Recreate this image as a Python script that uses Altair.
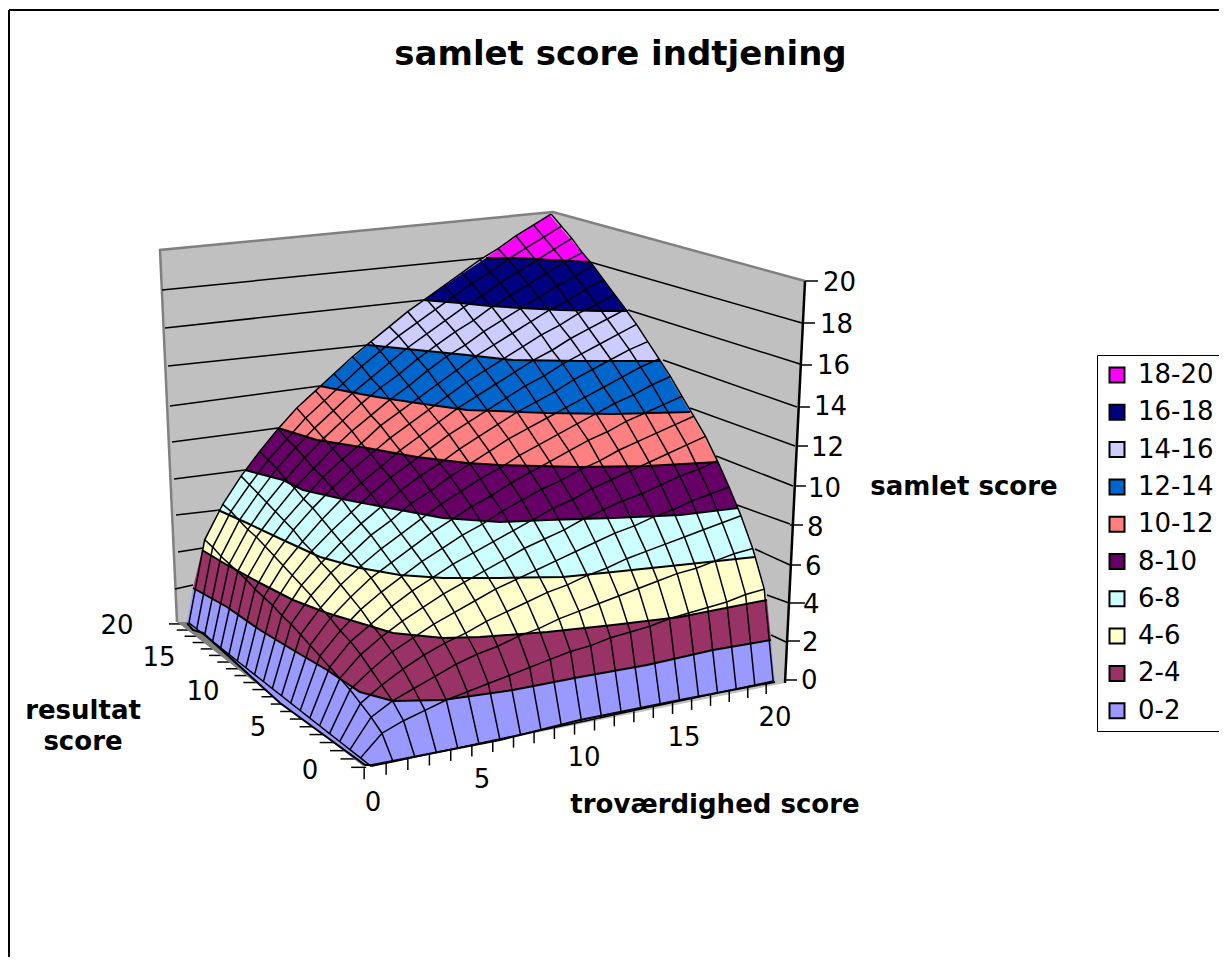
import altair as alt
import numpy as np
import pandas as pd

# ---- data -----------------------------------------------------------------
title_text = "samlet score indtjening"
legend_labels = ["18-20", "16-18", "14-16", "12-14", "10-12", "8-10", "6-8", "4-6", "2-4", "0-2"]
legend_colors = ["#FF00FF", "#000080", "#CCCCFF", "#0066CC", "#FF8080", "#660066", "#CCFFFF", "#FFFFCC", "#993366", "#9999FF"]

# samlet score per grid node: one row per resultat score 0..20, one column per trovaerdighed score 0..20
surface_rows = [
    [0.0] * 21,
    [0, 1.0, 1.4, 1.7, 2.0, 2.2, 2.4, 2.6, 2.8, 3.0, 3.2, 3.3, 3.5, 3.6, 3.7, 3.9, 4.0, 4.1, 4.2, 4.4, 4.5],
    [0, 1.4, 2.0, 2.4, 2.8, 3.2, 3.5, 3.7, 4.0, 4.2, 4.5, 4.7, 4.9, 5.1, 5.3, 5.5, 5.7, 5.8, 6.0, 6.2, 6.3],
    [0, 1.7, 2.4, 3.0, 3.5, 3.9, 4.2, 4.6, 4.9, 5.2, 5.5, 5.7, 6.0, 6.2, 6.5, 6.7, 6.9, 7.1, 7.3, 7.5, 7.7],
    [0, 2.0, 2.8, 3.5, 4.0, 4.5, 4.9, 5.3, 5.7, 6.0, 6.3, 6.6, 6.9, 7.2, 7.5, 7.7, 8.0, 8.2, 8.5, 8.7, 8.9],
    [0, 2.2, 3.2, 3.9, 4.5, 5.0, 5.5, 5.9, 6.3, 6.7, 7.1, 7.4, 7.7, 8.1, 8.4, 8.7, 8.9, 9.2, 9.5, 9.7, 10.0],
    [0, 2.4, 3.5, 4.2, 4.9, 5.5, 6.0, 6.5, 6.9, 7.3, 7.7, 8.1, 8.5, 8.8, 9.2, 9.5, 9.8, 10.1, 10.4, 10.7, 11.0],
    [0, 2.6, 3.7, 4.6, 5.3, 5.9, 6.5, 7.0, 7.5, 7.9, 8.4, 8.8, 9.2, 9.5, 9.9, 10.2, 10.6, 10.9, 11.2, 11.5, 11.8],
    [0, 2.8, 4.0, 4.9, 5.7, 6.3, 6.9, 7.5, 8.0, 8.5, 8.9, 9.4, 9.8, 10.2, 10.6, 11.0, 11.3, 11.7, 12.0, 12.3, 12.6],
    [0, 3.0, 4.2, 5.2, 6.0, 6.7, 7.3, 7.9, 8.5, 9.0, 9.5, 9.9, 10.4, 10.8, 11.2, 11.6, 12.0, 12.4, 12.7, 13.1, 13.4],
    [0, 3.2, 4.5, 5.5, 6.3, 7.1, 7.7, 8.4, 8.9, 9.5, 10.0, 10.5, 11.0, 11.4, 11.8, 12.2, 12.6, 13.0, 13.4, 13.8, 14.1],
    [0, 3.3, 4.7, 5.7, 6.6, 7.4, 8.1, 8.8, 9.4, 9.9, 10.5, 11.0, 11.5, 12.0, 12.4, 12.8, 13.3, 13.7, 14.1, 14.5, 14.8],
    [0, 3.5, 4.9, 6.0, 6.9, 7.7, 8.5, 9.2, 9.8, 10.4, 11.0, 11.5, 12.0, 12.5, 13.0, 13.4, 13.9, 14.3, 14.7, 15.1, 15.5],
    [0, 3.6, 5.1, 6.2, 7.2, 8.1, 8.8, 9.5, 10.2, 10.8, 11.4, 12.0, 12.5, 13.0, 13.5, 14.0, 14.4, 14.9, 15.3, 15.7, 16.1],
    [0, 3.7, 5.3, 6.5, 7.5, 8.4, 9.2, 9.9, 10.6, 11.2, 11.8, 12.4, 13.0, 13.5, 14.0, 14.5, 15.0, 15.4, 15.9, 16.3, 16.7],
    [0, 3.9, 5.5, 6.7, 7.7, 8.7, 9.5, 10.2, 11.0, 11.6, 12.2, 12.8, 13.4, 14.0, 14.5, 15.0, 15.5, 16.0, 16.4, 16.9, 17.3],
    [0, 4.0, 5.7, 6.9, 8.0, 8.9, 9.8, 10.6, 11.3, 12.0, 12.6, 13.3, 13.9, 14.4, 15.0, 15.5, 16.0, 16.5, 17.0, 17.4, 17.9],
    [0, 4.1, 5.8, 7.1, 8.2, 9.2, 10.1, 10.9, 11.7, 12.4, 13.0, 13.7, 14.3, 14.9, 15.4, 16.0, 16.5, 17.0, 17.5, 18.0, 18.4],
    [0, 4.2, 6.0, 7.3, 8.5, 9.5, 10.4, 11.2, 12.0, 12.7, 13.4, 14.1, 14.7, 15.3, 15.9, 16.4, 17.0, 17.5, 18.0, 18.5, 19.0],
    [0, 4.4, 6.2, 7.5, 8.7, 9.7, 10.7, 11.5, 12.3, 13.1, 13.8, 14.5, 15.1, 15.7, 16.3, 16.9, 17.4, 18.0, 18.5, 19.0, 19.5],
    [0, 4.5, 6.3, 7.7, 8.9, 10.0, 11.0, 11.8, 12.6, 13.4, 14.1, 14.8, 15.5, 16.1, 16.7, 17.3, 17.9, 18.4, 19.0, 19.5, 20.0],
]

# contour curves of the surface as they appear in the picture, score level -> (x, y)
contour_0 = [(187, 623), (193, 630), (203, 633), (280, 703), (365, 765), (372, 765), (500, 740), (580, 720), (680, 700), (775, 682)]
contour_2 = [(193, 588), (227, 607), (260, 630), (293, 650), (327, 670), (360, 692), (393, 701), (443, 700), (513, 690), (580, 677), (647, 665), (713, 650), (771, 640)]
contour_4 = [(202, 550), (227, 565), (260, 583), (293, 600), (327, 613), (360, 623), (393, 633), (443, 638), (480, 637), (547, 632), (613, 625), (680, 617), (767, 600)]
contour_6 = [(218, 510), (247, 523), (283, 540), (320, 557), (360, 568), (400, 575), (443, 578), (500, 578), (563, 577), (613, 572), (680, 565), (755, 557)]
contour_8 = [(245, 470), (283, 480), (303, 490), (347, 500), (400, 510), (443, 518), (500, 522), (547, 520), (613, 518), (680, 515), (738, 508)]
contour_10 = [(278, 428), (317, 440), (367, 448), (417, 457), (467, 463), (500, 465), (580, 467), (647, 466), (718, 462)]
contour_12 = [(320, 386), (350, 392), (377, 397), (417, 403), (467, 410), (547, 413), (613, 414), (690, 412)]
contour_14 = [(368, 345), (397, 348), (467, 355), (513, 360), (580, 361), (660, 361)]
contour_16 = [(423, 300), (460, 303), (490, 306), (520, 308), (560, 310), (600, 311), (628, 311)]
contour_18 = [(486, 258), (520, 258), (550, 260), (590, 262)]
contour_20 = [(549, 214)]
contours = [contour_0, contour_2, contour_4, contour_6, contour_8, contour_10, contour_12, contour_14, contour_16, contour_18, contour_20]

# chart walls, floor edge and gridlines as they appear in the picture
wall_outline = [(160, 250), (553, 212), (805, 281), (785, 683), (370, 766), (177, 622)]
floor_strip = [(177, 622), (187, 622), (372, 765), (363, 766)]
wall_edge = [(177, 622), (160, 250), (553, 212), (805, 281)]
value_axis = [(805, 281), (785, 683)]
left_grid = [((162, 290), (483, 258)), ((165, 328), (423, 300)), ((168, 366), (368, 345)), ((170, 406), (320, 386)),
             ((172, 442), (278, 428)), ((174, 479), (245, 470)), ((176, 515), (220, 510)), ((178, 552), (203, 548)), ((175, 589), (193, 585))]
right_grid = [((802, 323), (590, 262)), ((800, 364), (628, 310)), ((797, 407), (663, 360)), ((795, 446), (690, 408)),
              ((793, 486), (716, 456)), ((790, 524), (737, 505)), ((790, 565), (755, 549)), ((789, 603), (767, 595)), ((786, 642), (771, 635))]
value_ticks = [((805, 281), (818, 281)), ((802, 323), (815, 323)), ((801, 365), (812, 365)), ((800, 407), (810, 407)), ((797, 446), (808, 446)),
               ((795, 486), (806, 486)), ((790, 525), (803, 525)), ((790, 565), (801, 565)), ((789, 603), (805, 603)), ((786, 641), (800, 641)), ((785, 680), (797, 680))]

value_labels = ["20", "18", "16", "14", "12", "10", "8", "6", "4", "2", "0"]
value_label_x = [823, 820, 817, 814, 811, 808, 807, 805, 803, 802, 801]
value_label_y = [283, 325, 366, 407, 448, 489, 528, 567, 605, 643, 681]
front_labels = ["0", "5", "10", "15", "20"]
front_label_x = [373, 482, 584, 684, 775]
front_label_y = [803, 780, 758, 738, 718]
side_labels = ["0", "5", "10", "15", "20"]
side_label_x = [310, 258, 203, 159, 117]
side_label_y = [771, 728, 692, 658, 626]
axis_titles = ["samlet score", "resultat", "score", "troværdighed score"]
axis_title_x = [964, 83, 83, 715]
axis_title_y = [487, 711, 742, 805]

# surface points located in the picture: (trovaerdighed, resultat, samlet) -> (x, y)
box_corners = [((0, 0, 0), (370, 765)), ((0, 20, 0), (187, 623)), ((20, 0, 0), (775, 682)),
               ((20, 20, 20), (549, 214)), ((0, 20, 20), (170, 250)), ((20, 0, 20), (795, 281)),
               ((2, 2, 2), (393, 701)),
               ((20, 0.2, 2), (771, 640)), ((20, 0.8, 4), (767, 600)), ((20, 1.8, 6), (755, 557)),
               ((20, 3.2, 8), (738, 508)), ((20, 5, 10), (718, 462)), ((20, 7.2, 12), (690, 412)),
               ((20, 9.8, 14), (660, 361)), ((20, 12.8, 16), (628, 311)), ((20, 16.2, 18), (590, 262)),
               ((0.2, 20, 2), (193, 588)), ((0.8, 20, 4), (202, 550)), ((1.8, 20, 6), (218, 510)),
               ((3.2, 20, 8), (245, 470)), ((5, 20, 10), (278, 428)), ((7.2, 20, 12), (320, 386)),
               ((9.8, 20, 14), (368, 345)), ((12.8, 20, 16), (423, 300)), ((16.2, 20, 18), (486, 258))]

# ---- perspective of the 3-D box, calibrated on those points -------------------
rows, rhs = [], []
for (t, r, z), (sx, sy) in box_corners:
    rows.append([t, r, z, 1, 0, 0, 0, 0, -sx * t, -sx * r, -sx * z]); rhs.append(sx)
    rows.append([0, 0, 0, 0, t, r, z, 1, -sy * t, -sy * r, -sy * z]); rhs.append(sy)
p = np.linalg.lstsq(np.array(rows, float), np.array(rhs, float), rcond=None)[0]


def project(t, r, z):
    w = p[8] * t + p[9] * r + p[10] * z + 1
    return (p[0] * t + p[1] * r + p[2] * z + p[3]) / w, (p[4] * t + p[5] * r + p[6] * z + p[7]) / w


# ---- tables --------------------------------------------------------------
def lines_table(lines):
    return pd.DataFrame([{"line": i, "seq": j, "x": float(pt[0]), "y": float(pt[1])}
                         for i, ln in enumerate(lines) for j, pt in enumerate(ln)])


mesh = []
for r in range(21):
    mesh.append([project(t, r, surface_rows[r][t]) for t in range(21)])
for t in range(21):
    mesh.append([project(t, r, surface_rows[r][t]) for r in range(21)])

front_ticks = []
side_ticks = []
for s in range(21):
    fx, fy = project(s, 0, 0)
    front_ticks.append([(fx - 7, fy + 2), (fx - 7, fy + 13)])
    sx, sy = project(0, s, 0)
    side_ticks.append([(sx - 5, sy + 1), (sx - 20, sy + 1)])


def feature(points, band):
    ring = [[float(a) for a in pt] for pt in points]
    ring.append(ring[0])
    return {"type": "Feature", "properties": {"band": band},
            "geometry": {"type": "Polygon", "coordinates": [ring]}}


band_features = []
for k, label in enumerate(reversed(legend_labels)):
    band_features.append(feature(contours[k] + contours[k + 1][::-1], label))

# ---- chart ----------------------------------------------------------------
W, H = 1211, 949
X = alt.X("x:Q", scale=alt.Scale(domain=[8, 8 + W]), axis=None)
Y = alt.Y("y:Q", scale=alt.Scale(domain=[8, 8 + H], reverse=True), axis=None)
projection = dict(type="identity", scale=1, translate=[-8, -8])


def poly_layer(points, color):
    return alt.Chart(alt.Data(values=[feature(points, "x")])).mark_geoshape(
        fill=color, strokeWidth=0).project(**projection)


def line_layer(lines, color="#000000", width=1.5):
    return alt.Chart(lines_table(lines)).mark_line(color=color, strokeWidth=width, interpolate="linear").encode(
        x=X, y=Y, detail="line:N", order="seq:Q")


def text_layer(labels, xs, ys, size, bold=False, align="center"):
    df = pd.DataFrame({"label": labels, "x": xs, "y": ys})
    return alt.Chart(df).mark_text(font="DejaVu Sans", fontSize=size, fontWeight="bold" if bold else "normal",
                                   color="#000000", align=align, baseline="middle").encode(x=X, y=Y, text="label:N")


bands = alt.Chart(alt.Data(values=band_features)).mark_geoshape(strokeWidth=0).encode(
    color=alt.Color("properties.band:N",
                    scale=alt.Scale(domain=legend_labels, range=legend_colors),
                    sort=legend_labels,
                    legend=alt.Legend(title=None, orient="none", legendX=1089, legendY=347,
                                      symbolType="square", symbolSize=225, symbolStrokeColor="#000000",
                                      symbolStrokeWidth=2, symbolOpacity=1,
                                      labelFont="DejaVu Sans", labelFontSize=26, labelColor="#000000",
                                      labelOffset=8, rowPadding=11.3, padding=7,
                                      fillColor="#FFFFFF", strokeColor="#000000"))
).project(**projection)

frame = line_layer([[(9, 10), (1227, 10)], [(9, 10), (9, 961)]], width=2)

chart = alt.layer(
    frame,
    poly_layer(wall_outline, "#C0C0C0"),
    line_layer([wall_edge], "#808080", 2.5),
    line_layer(left_grid + right_grid, width=1.5),
    line_layer(front_ticks + side_ticks, width=1.5),
    poly_layer(floor_strip, "#808080"),
    bands,
    line_layer(contours[:-1], width=2),
    line_layer(mesh),
    line_layer([value_axis], width=2.5),
    line_layer(value_ticks, width=1.5),
    text_layer(value_labels, value_label_x, value_label_y, 26, align="left"),
    text_layer(front_labels, front_label_x, front_label_y, 26),
    text_layer(side_labels, side_label_x, side_label_y, 26),
    text_layer(axis_titles, axis_title_x, axis_title_y, 26, bold=True),
).properties(
    width=W, height=H, padding=0, autosize=alt.AutoSizeParams(type="none"),
    title=alt.TitleParams(title_text, font="DejaVu Sans", fontSize=34, fontWeight="bold", color="#000000",
                          anchor="middle", frame="group", offset=-66, dx=7),
).configure_view(stroke=None)

chart.save("out.html", embed_options={"renderer": "svg", "actions": False})
